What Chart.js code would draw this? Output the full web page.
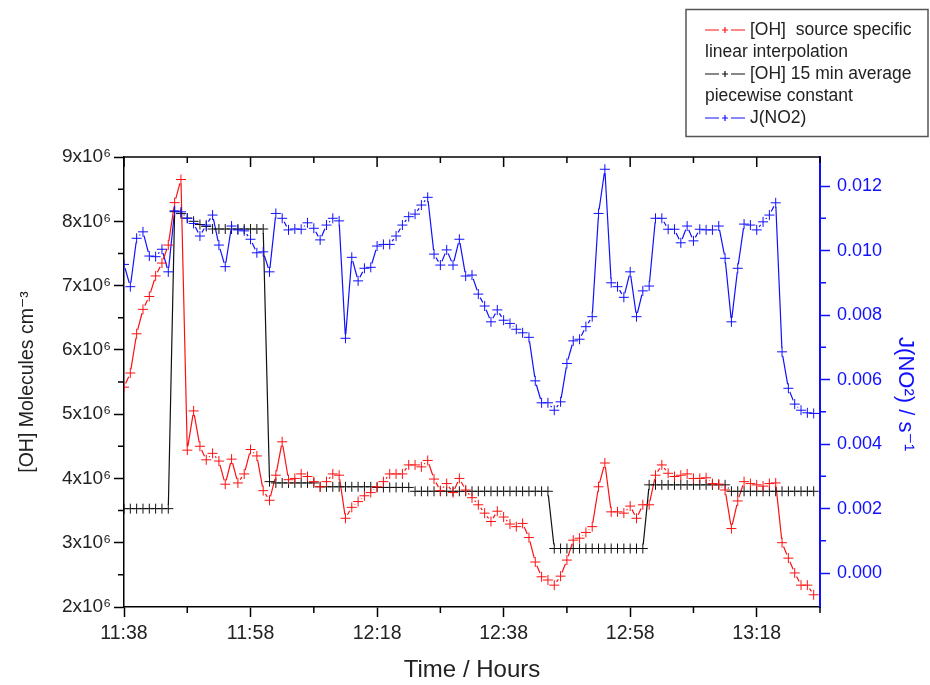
<!DOCTYPE html>
<html>
<head>
<meta charset="utf-8">
<script src="https://cdn.jsdelivr.net/npm/chart.js@4.4.1/dist/chart.umd.min.js"></script>
<style>
  html, body { margin: 0; padding: 0; background: #fff; }
</style>
</head>
<body>
<canvas id="c" width="930" height="685"></canvas>
<script>
// one sample per minute, first sample at 11:38
const startTime = '11:38';
const timeTicks = ['11:38', '11:58', '12:18', '12:38', '12:58', '13:18'];
const ohTicks = [2, 3, 4, 5, 6, 7, 8, 9];            // x10^6
const jTicks = [0.000, 0.002, 0.004, 0.006, 0.008, 0.010, 0.012];

// [OH] source specific, linear interpolation (x10^6 molecules cm-3)
const ohSource = [
  5.42, 5.64, 6.25, 6.63, 6.83, 7.15, 7.35, 7.63, 8.29, 8.65,
  4.44, 5.05, 4.50, 4.29, 4.39, 4.27, 3.91, 4.30, 3.93, 4.07,
  4.45, 4.35, 3.81, 3.66, 4.05, 4.57, 3.98, 4.00, 4.07, 4.03,
  3.95, 3.87, 3.95, 4.07, 4.05, 3.38, 3.55, 3.64, 3.73, 3.78,
  3.87, 3.95, 4.07, 4.07, 4.07, 4.21, 4.21, 4.18, 4.28, 3.99,
  3.81, 3.92, 3.78, 4.00, 3.82, 3.70, 3.59, 3.46, 3.33, 3.49,
  3.40, 3.29, 3.25, 3.30, 3.08, 2.70, 2.47, 2.42, 2.34, 2.48,
  2.73, 3.04, 3.07, 3.16, 3.25, 3.87, 4.24, 3.48, 3.48, 3.46,
  3.57, 3.38, 3.59, 3.59, 4.05, 4.21, 4.08, 4.03, 4.05, 4.07,
  4.00, 4.00, 4.01, 3.92, 3.91, 3.82, 3.22, 3.65, 3.95, 3.92,
  3.90, 3.88, 3.92, 3.93, 3.00, 2.76, 2.53, 2.34, 2.34, 2.19
];

// [OH] 15 min average, piecewise constant (x10^6 molecules cm-3)
const ohAverage = [
  3.53, 3.53, 3.53, 3.53, 3.53, 3.53, 3.53, 3.53, 8.15, 8.12,
  8.05, 8.00, 7.95, 7.92, 7.88, 7.88, 7.88, 7.88, 7.88, 7.88,
  7.88, 7.88, 7.88, 3.95, 3.93, 3.93, 3.93, 3.93, 3.93, 3.93,
  3.93, 3.87, 3.87, 3.87, 3.87, 3.87, 3.87, 3.87, 3.87, 3.87,
  3.86, 3.86, 3.86, 3.86, 3.86, 3.86, 3.80, 3.80, 3.80, 3.80,
  3.80, 3.80, 3.80, 3.80, 3.80, 3.80, 3.80, 3.80, 3.80, 3.80,
  3.80, 3.80, 3.80, 3.80, 3.80, 3.80, 3.80, 3.80, 2.91, 2.91,
  2.91, 2.91, 2.91, 2.91, 2.91, 2.91, 2.91, 2.91, 2.91, 2.91,
  2.91, 2.91, 2.91, 3.90, 3.90, 3.90, 3.90, 3.90, 3.90, 3.90,
  3.90, 3.90, 3.90, 3.90, 3.90, 3.90, 3.80, 3.80, 3.80, 3.80,
  3.80, 3.80, 3.80, 3.80, 3.80, 3.80, 3.80, 3.80, 3.80, 3.80
];

// J(NO2) photolysis frequency (s-1)
const jNO2 = [
  0.00957, 0.00888, 0.01038, 0.01058, 0.00983, 0.00981, 0.01004, 0.00934, 0.01123, 0.01120,
  0.01100, 0.01084, 0.01045, 0.01079, 0.01110, 0.01017, 0.00950, 0.01076, 0.01064, 0.01061,
  0.01035, 0.00993, 0.00996, 0.00934, 0.01115, 0.01100, 0.01064, 0.01067, 0.01066, 0.01086,
  0.01069, 0.01033, 0.01079, 0.01100, 0.01092, 0.00728, 0.00979, 0.00906, 0.00945, 0.00948,
  0.01014, 0.01019, 0.01019, 0.01045, 0.01079, 0.01105, 0.01113, 0.01141, 0.01165, 0.00989,
  0.00955, 0.01002, 0.00955, 0.01035, 0.00921, 0.00924, 0.00865, 0.00828, 0.00779, 0.00816,
  0.00784, 0.00774, 0.00756, 0.00745, 0.00731, 0.00596, 0.00528, 0.00528, 0.00505, 0.00531,
  0.00650, 0.00720, 0.00725, 0.00764, 0.00795, 0.01115, 0.01252, 0.00900, 0.00888, 0.00855,
  0.00934, 0.00795, 0.00875, 0.00890, 0.01100, 0.01100, 0.01066, 0.01066, 0.01024, 0.01076,
  0.01030, 0.01066, 0.01064, 0.01064, 0.01076, 0.00976, 0.00779, 0.00945, 0.01082, 0.01079,
  0.01064, 0.01089, 0.01110, 0.01148, 0.00686, 0.00573, 0.00524, 0.00505, 0.00497, 0.00495,
  0.00495
];

const FONT = "'Liberation Sans', 'DejaVu Sans', Arial, sans-serif";
const RED = '#ff1010';
const BLACK = '#111111';
const BLUE = '#1010ff';
const GAP = 4;   // line stops short of each symbol, as in the original plot

function toMin(s) {
  const p = s.split(':').map(Number);
  return p[0] * 60 + p[1];
}
function fmtTime(m) {
  const h = Math.floor(m / 60);
  const mm = Math.round(m - h * 60);
  return h + ':' + String(mm).padStart(2, '0');
}
const t0 = toMin(startTime);
const asPoints = arr => arr.map((v, i) => ({ x: t0 + i, y: v }));

function lineSet(label, data, color, axis) {
  return {
    label: label,
    data: asPoints(data),
    yAxisID: axis,
    borderColor: color,
    backgroundColor: color,
    borderWidth: 1.2,
    showLine: false,
    pointStyle: 'cross',
    pointRadius: 5,
    pointBorderWidth: 1,
    pointHoverRadius: 5
  };
}

// connecting lines with a small gap at every symbol
const gappedLines = {
  id: 'gappedLines',
  beforeDatasetsDraw(chart) {
    const ctx = chart.ctx, a = chart.chartArea;
    ctx.save();
    ctx.beginPath();
    ctx.rect(a.left, a.top, a.right - a.left, a.bottom - a.top);
    ctx.clip();
    chart.data.datasets.forEach((ds, i) => {
      const pts = chart.getDatasetMeta(i).data;
      ctx.strokeStyle = ds.borderColor;
      ctx.lineWidth = ds.borderWidth;
      ctx.beginPath();
      for (let k = 1; k < pts.length; k++) {
        const p = pts[k - 1], q = pts[k];
        const dx = q.x - p.x, dy = q.y - p.y, d = Math.hypot(dx, dy);
        if (d <= 2 * GAP) continue;
        const ux = dx / d, uy = dy / d;
        ctx.moveTo(p.x + ux * GAP, p.y + uy * GAP);
        ctx.lineTo(q.x - ux * GAP, q.y - uy * GAP);
      }
      ctx.stroke();
    });
    ctx.restore();
  }
};

// minor ticks, top frame with inward ticks
const frame = {
  id: 'frame',
  afterDraw(chart) {
    const { ctx, chartArea: a, scales } = chart;
    const x = scales.x, y = scales.y, y1 = scales.y1;
    ctx.save();
    ctx.lineWidth = 1.5;
    ctx.strokeStyle = '#000';
    ctx.beginPath();
    ctx.moveTo(a.left, a.top);
    ctx.lineTo(a.right, a.top);
    ctx.stroke();
    ctx.beginPath();
    for (let m = t0; m <= x.max; m += 10) {
      const px = x.getPixelForValue(m);
      const major = (m - t0) % 20 === 0;
      ctx.moveTo(px, a.top);
      ctx.lineTo(px, a.top + (major ? 10 : 6));
      if (!major) {
        ctx.moveTo(px, a.bottom);
        ctx.lineTo(px, a.bottom + 6);
      }
    }
    for (let v = ohTicks[0] + 0.5; v < ohTicks[ohTicks.length - 1]; v += 1) {
      const py = y.getPixelForValue(v);
      ctx.moveTo(a.left, py);
      ctx.lineTo(a.left - 6, py);
    }
    ctx.stroke();
    ctx.strokeStyle = BLUE;
    ctx.beginPath();
    for (let i = 0; i < jTicks.length; i++) {
      const py = y1.getPixelForValue(jTicks[i] + 0.001);
      if (py < a.top) continue;
      ctx.moveTo(a.right, py);
      ctx.lineTo(a.right + 6, py);
    }
    ctx.stroke();
    ctx.restore();
  }
};

// boxed legend, top right
const legendBox = {
  id: 'legendBox',
  afterDraw(chart) {
    const ctx = chart.ctx;
    const items = [
      { color: RED, lines: ['[OH]  source specific', 'linear interpolation'] },
      { color: BLACK, lines: ['[OH] 15 min average', 'piecewise constant'] },
      { color: BLUE, lines: ['J(NO2)'] }
    ];
    ctx.save();
    ctx.strokeStyle = '#555';
    ctx.lineWidth = 1.5;
    ctx.strokeRect(686, 9.5, 242, 127);
    ctx.font = '17.5px ' + FONT;
    ctx.textBaseline = 'middle';
    ctx.fillStyle = '#222';
    let ly = 30;
    items.forEach(it => {
      ctx.strokeStyle = it.color;
      ctx.lineWidth = 1.2;
      ctx.beginPath();
      ctx.moveTo(705, ly); ctx.lineTo(719, ly);
      ctx.moveTo(731, ly); ctx.lineTo(745, ly);
      ctx.moveTo(722, ly); ctx.lineTo(728, ly);
      ctx.moveTo(725, ly - 3); ctx.lineTo(725, ly + 3);
      ctx.stroke();
      it.lines.forEach((t, k) => {
        ctx.fillText(t, k === 0 ? 750 : 705, ly);
        ly += 22;
      });
    });
    ctx.restore();
  }
};

new Chart(document.getElementById('c'), {
  type: 'line',
  data: {
    datasets: [
      lineSet('J(NO2)', jNO2, BLUE, 'y1'),
      lineSet('[OH] source specific linear interpolation', ohSource, RED, 'y'),
      lineSet('[OH] 15 min average piecewise constant', ohAverage, BLACK, 'y')
    ]
  },
  options: {
    responsive: false,
    animation: false,
    events: [],
    layout: { padding: { top: 157, left: 0, right: 0, bottom: 0 } },
    plugins: { legend: { display: false }, tooltip: { enabled: false } },
    scales: {
      x: {
        type: 'linear',
        min: t0,
        max: t0 + 110,
        afterBuildTicks: s => { s.ticks = timeTicks.map(l => ({ value: toMin(l) })); },
        afterFit: s => { s.height = 78; },
        ticks: { callback: v => fmtTime(v), font: { family: FONT, size: 19.5 }, color: '#222', maxRotation: 0, padding: 5 },
        grid: { drawOnChartArea: false, tickLength: 10, tickColor: '#000', tickWidth: 1.5 },
        border: { color: '#000', width: 1.5 },
        title: { display: true, text: 'Time / Hours', font: { family: FONT, size: 24 }, color: '#222', padding: { top: 0, bottom: 0 } }
      },
      y: {
        position: 'left',
        min: ohTicks[0],
        max: ohTicks[ohTicks.length - 1],
        afterBuildTicks: s => { s.ticks = ohTicks.map(v => ({ value: v })); },
        afterFit: s => { s.width = 124; },
        ticks: { callback: v => v + 'x10\u2076', font: { family: FONT, size: 19 }, color: '#222', padding: 3 },
        grid: { drawOnChartArea: false, tickLength: 10, tickColor: '#000', tickWidth: 1.5 },
        border: { color: '#000', width: 1.5 },
        title: { display: true, text: '[OH] Molecules cm\u207B\u00B3', font: { family: FONT, size: 19.5 }, color: '#222', padding: { top: 16, bottom: 0 } }
      },
      y1: {
        position: 'right',
        min: -0.00105,
        max: 0.0129,
        afterBuildTicks: s => { s.ticks = jTicks.map(v => ({ value: v })); },
        afterFit: s => { s.width = 110; },
        ticks: { callback: v => v.toFixed(3), font: { family: FONT, size: 18 }, color: BLUE, padding: 7 },
        grid: { drawOnChartArea: false, tickLength: 10, tickColor: BLUE, tickWidth: 1.5 },
        border: { color: BLUE, width: 2 },
        title: { display: true, text: '\u00A0\u00A0\u00A0\u00A0J(NO\u00B2) / s\u207B\u00B9', font: { family: FONT, size: 22 }, color: BLUE, padding: { top: 12, bottom: 0 } }
      }
    }
  },
  plugins: [gappedLines, frame, legendBox]
});
</script>
</body>
</html>
